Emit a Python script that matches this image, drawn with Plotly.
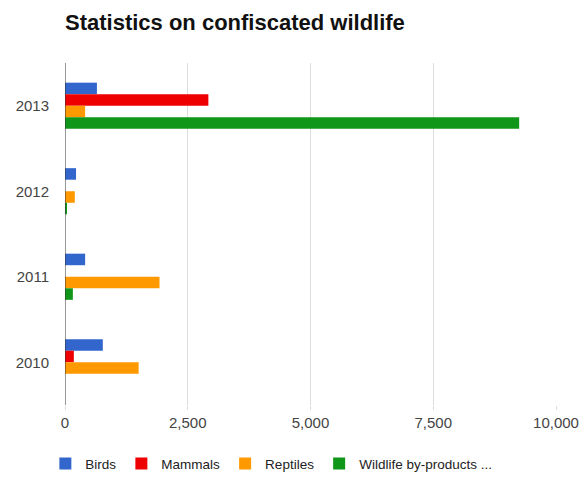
import plotly.graph_objects as go

years = ["2013", "2012", "2011", "2010"]
series_names = ["Birds", "Mammals", "Reptiles", "Wildlife by-products ..."]
birds = [650, 225, 410, 770]
mammals = [2920, 0, 0, 180]
reptiles = [410, 200, 1925, 1500]
wildlife = [9250, 35, 160, 0]
colors = ["#3366cc", "#ee0000", "#ff9900", "#109618"]
x_ticks = [0, 2500, 5000, 7500, 10000]

fig = go.Figure()
for name, vals, c in zip(series_names, [birds, mammals, reptiles, wildlife], colors):
    fig.add_trace(go.Bar(y=years, x=vals, name=name, orientation="h",
                         marker=dict(color=c, line=dict(width=0))))

fig.update_layout(
    width=579, height=483,
    margin=dict(l=65, r=23, t=63, b=78, autoexpand=False),
    paper_bgcolor="white", plot_bgcolor="white",
    barmode="group", bargap=0.46, bargroupgap=0.0,
    font=dict(family="Liberation Sans, Arial, sans-serif", size=14, color="#444"),
    title=dict(text="<b>Statistics on confiscated wildlife</b>", x=65/579, xanchor="left",
               y=1 - 22/483, yanchor="middle",
               font=dict(size=22, color="#111", family="Liberation Sans, Arial, sans-serif")),
    xaxis=dict(range=[0, 10000], tickvals=x_ticks, tickformat=",", showgrid=True,
               gridcolor="#dddddd", gridwidth=1, zeroline=False, showline=False,
               ticks="outside", ticklen=4, tickcolor="#dddddd", ticklabelstandoff=0,
               automargin=False, tickfont=dict(size=15, color="#444")),
    yaxis=dict(type="category", categoryorder="array", categoryarray=years,
               autorange="reversed", showgrid=False, zeroline=False,
               showline=False, ticks="", ticklabelstandoff=15, automargin=False,
               tickfont=dict(size=15, color="#444")),
    legend=dict(orientation="h", x=-0.04, xanchor="left", y=-0.172, yanchor="middle",
                font=dict(size=13.5, color="#222"), traceorder="normal",
                itemwidth=30),
    showlegend=True,
)
# zero baseline
fig.add_shape(type="line", xref="x", yref="paper", x0=0, x1=0, y0=0, y1=1,
              line=dict(color="#333", width=1))

fig.write_html("out.html")
